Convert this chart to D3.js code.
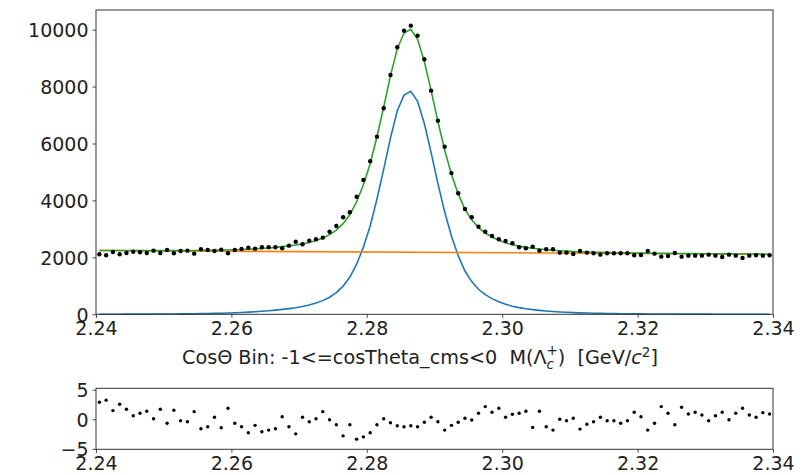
<!DOCTYPE html>
<html>
<head>
<meta charset="utf-8">
<script src="https://cdn.jsdelivr.net/npm/d3@7"></script>
<style>
  body { margin: 0; background: #fff; }
  svg { display: block; font-family: "DejaVu Sans", sans-serif; }
</style>
</head>
<body>
<svg id="chart" width="808" height="475"></svg>
<script>
// bin centres 2.2405 ... 2.3395 (100 bins of 0.001 GeV)
var massBins = d3.range(100).map(i => +(2.2405 + i * 0.001).toFixed(4));

// data points (events / bin)
var dataCounts = [
  2108, 2073, 2189, 2108, 2154, 2200, 2178, 2154, 2236, 2154,
  2259, 2143, 2224, 2236, 2131, 2283, 2259, 2224, 2271, 2143,
  2259, 2294, 2341, 2306, 2353, 2353, 2353, 2318, 2411, 2551,
  2460, 2587, 2635, 2693, 2902, 3103, 3408, 3584, 4132, 4719,
  5374, 6240, 7238, 8408, 9381, 9965, 10141, 9789, 8960, 7857,
  6803, 5889, 4960, 4252, 3700, 3408, 3078, 2902, 2751, 2635,
  2576, 2495, 2354, 2318, 2376, 2236, 2283, 2283, 2166, 2166,
  2119, 2224, 2166, 2143, 2096, 2143, 2143, 2143, 2143, 2073,
  2084, 2224, 2131, 2026, 2050, 2154, 2026, 2061, 2061, 2061,
  2096, 2061, 2014, 2096, 2061, 1978, 2061, 2073, 2061, 2073
];

// signal component (blue)
var signalCurve = [
  3, 3, 4, 4, 5, 5, 6, 7, 8, 9,
  10, 12, 14, 16, 19, 22, 26, 31, 37, 44,
  53, 63, 75, 89, 105, 124, 146, 172, 200, 232,
  272, 325, 395, 480, 600, 760, 990, 1310, 1760, 2360,
  3100, 4050, 5100, 6200, 7150, 7700, 7830, 7480, 6700, 5680,
  4600, 3600, 2750, 2060, 1520, 1150, 880, 690, 550, 440,
  350, 285, 235, 195, 163, 137, 115, 97, 82, 70,
  60, 51, 44, 38, 33, 28, 24, 21, 18, 16,
  14, 12, 11, 10, 9, 8, 7, 6, 6, 5,
  5, 4, 4, 4, 3, 3, 3, 3, 2, 2
];

// background component (orange), straight line end points
var bkgMass = [2.2405, 2.3395];
var bkgLevel = [2240, 2110];

// total fit (green)
var totalCurve = [
  2243, 2242, 2241, 2240, 2240, 2238, 2238, 2238, 2237, 2237,
  2237, 2238, 2238, 2239, 2240, 2242, 2245, 2249, 2253, 2259,
  2267, 2276, 2286, 2299, 2314, 2331, 2352, 2377, 2403, 2434,
  2473, 2525, 2594, 2678, 2797, 2956, 3185, 3504, 3953, 4552,
  5288, 6236, 7285, 8384, 9332, 9881, 10010, 9658, 8877, 7856,
  6775, 5773, 4922, 4230, 3689, 3318, 3046, 2855, 2714, 2603,
  2511, 2445, 2394, 2352, 2319, 2292, 2268, 2249, 2233, 2219,
  2208, 2198, 2189, 2182, 2176, 2170, 2164, 2160, 2156, 2152,
  2149, 2146, 2143, 2141, 2139, 2136, 2134, 2132, 2130, 2128,
  2127, 2125, 2123, 2122, 2120, 2118, 2117, 2116, 2113, 2112
];

// residuals (pull) for lower panel
var pulls = [
  2.90, 3.24, 1.47, 2.56, 1.71, 0.61, 1.02, 1.37, 0.10, 1.71,
  -0.68, 1.54, -0.24, -0.41, 1.30, -1.60, -1.26, 0.34, -1.43, 1.88,
  -0.68, -1.26, -2.29, -1.02, -2.12, -1.83, -1.60, 0.44, -1.26, -2.46,
  0.34, -0.41, 0.10, 1.30, -0.07, -0.92, -2.80, -0.92, -3.36, -2.97,
  -2.29, -0.92, 0.10, -0.58, -1.09, -1.26, -1.09, -1.26, -0.51, 0.34,
  -0.41, -1.83, -1.02, -0.51, 0.17, -0.12, 1.02, 2.15, 1.19, 1.88,
  0.34, 0.85, 1.02, 1.37, -1.37, 1.37, -1.26, -1.83, 0.00, -0.24,
  0.17, -1.66, -0.85, -0.41, 0.34, -0.24, -0.24, -0.68, -0.24, 1.19,
  0.44, -1.83, -0.68, 2.15, 1.02, -0.92, 2.05, 0.90, 1.19, 0.73,
  -0.24, 0.61, 1.19, -0.07, 1.02, 1.88, 0.73, 0.34, 1.13, 0.90
];

var xTicks = [2.24, 2.26, 2.28, 2.30, 2.32, 2.34];
var yTicksMain = [0, 2000, 4000, 6000, 8000, 10000];
var yTicksPull = [-5, 0, 5];

var svg = d3.select("#chart");

var left = 96, right = 773;
var main = { top: 10, bottom: 314.3 };
var sub = { top: 388.3, bottom: 449.3 };

var x = d3.scaleLinear().domain([2.24, 2.34]).range([left, right]);
var yMain = d3.scaleLinear().domain([0, 10690]).range([main.bottom, main.top]);
var yPull = d3.scaleLinear().domain([-5.08, 5.25]).range([sub.bottom, sub.top]);

var fmtX = d3.format(".2f");

function drawAxes(y, box, yTicks, yFmt) {
    var gx = svg.append("g")
        .attr("transform", "translate(0," + box.bottom + ")")
        .call(d3.axisBottom(x).tickValues(xTicks).tickFormat(fmtX).tickSize(3.5).tickPadding(4));
    var gy = svg.append("g")
        .attr("transform", "translate(" + left + ",0)")
        .call(d3.axisLeft(y).tickValues(yTicks).tickFormat(yFmt).tickSize(3.5).tickPadding(4));
    [gx, gy].forEach(g => {
        g.select(".domain").remove();
        g.selectAll("line").attr("stroke", "#333").attr("stroke-width", 0.9);
        g.selectAll("text").attr("fill", "#222").style("font-size", "19px")
            .style("font-family", "DejaVu Sans, sans-serif");
    });
    gy.selectAll("text").attr("dy", "0.36em");

    svg.append("rect")
        .attr("x", left).attr("y", box.top)
        .attr("width", right - left).attr("height", box.bottom - box.top)
        .attr("fill", "none").attr("stroke", "#333").attr("stroke-width", 1);
}

// ---- main panel ----
var line = d3.line().x((d, i) => x(massBins[i])).y(d => yMain(d));

svg.append("path").datum(signalCurve)
    .attr("d", line).attr("fill", "none")
    .attr("stroke", "#1f77b4").attr("stroke-width", 1.6);

svg.append("path").datum(bkgLevel)
    .attr("d", d3.line().x((d, i) => x(bkgMass[i])).y(d => yMain(d)))
    .attr("fill", "none").attr("stroke", "#ff7f0e").attr("stroke-width", 1.6);

svg.append("path").datum(totalCurve)
    .attr("d", line).attr("fill", "none")
    .attr("stroke", "#2ca02c").attr("stroke-width", 1.6);

svg.append("g").selectAll("circle")
    .data(dataCounts)
    .enter().append("circle")
    .attr("cx", (d, i) => x(massBins[i]))
    .attr("cy", d => yMain(d))
    .attr("r", 2.2)
    .attr("fill", "#000");

drawAxes(yMain, main, yTicksMain, d3.format("d"));

// x axis title with sub/superscripts
var title = svg.append("text")
    .attr("x", 182).attr("y", 363.5)
    .attr("fill", "#222")
    .style("font-size", "19.2px")
    .attr("xml:space", "preserve");
title.append("tspan").text("CosΘ Bin: -1<=cosTheta_cms<0  M(Λ");
title.append("tspan").attr("font-style", "italic").attr("font-size", "13.5px").attr("dy", 5).text("c");
title.append("tspan").attr("font-size", "13.5px").attr("dx", -7.5).attr("dy", -14).text("+");
title.append("tspan").attr("dy", 9).text(")  [GeV/");
title.append("tspan").attr("font-style", "italic").text("c");
title.append("tspan").attr("font-size", "13.5px").attr("dy", -7).text("2");
title.append("tspan").attr("dy", 7).text("]");

// ---- residual panel ----
svg.append("g").selectAll("circle")
    .data(pulls)
    .enter().append("circle")
    .attr("cx", (d, i) => x(massBins[i]))
    .attr("cy", d => yPull(d))
    .attr("r", 1.7)
    .attr("fill", "#000");

drawAxes(yPull, sub, yTicksPull, d => d < 0 ? "\u2212" + Math.abs(d) : d);
</script>
</body>
</html>
